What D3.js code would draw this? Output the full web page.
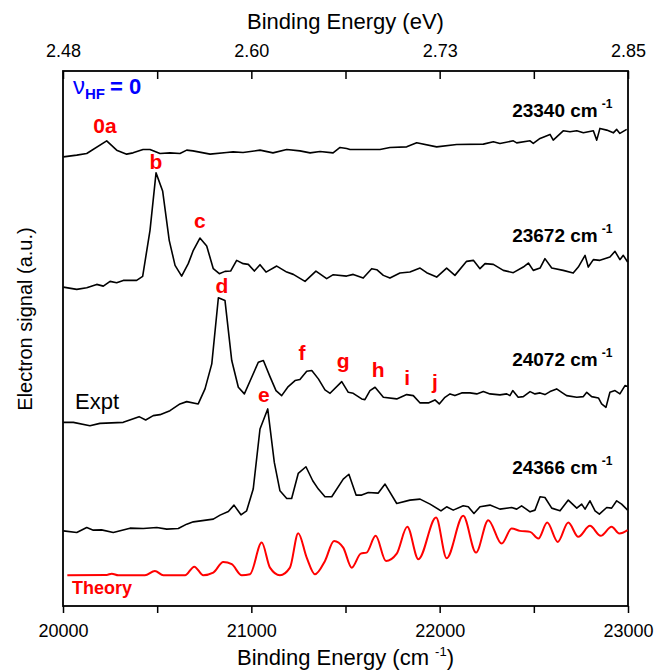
<!DOCTYPE html>
<html>
<head>
<meta charset="utf-8">
<script src="https://cdn.jsdelivr.net/npm/d3@7"></script>
<style>
  body { margin: 0; background: #fff; }
  svg { display: block; font-family: "Liberation Sans", Arial, sans-serif; }
</style>
</head>
<body>
<svg id="chart" width="656" height="672"></svg>
<script>
// Photoelectron spectra, v_HF = 0, stacked with vertical offsets (a.u.)
// each point: [binding energy cm-1, signal a.u.]

const trace23340 = [
  [20002, 448.3], [20073, 450], [20126, 451.7], [20232, 464.3], [20285, 455], [20338, 451],
  [20372, 452.3], [20425, 455.7], [20462, 455.7], [20515, 451.7], [20568, 452.3], [20621, 451.7],
  [20657, 455], [20690, 454.3], [20781, 451], [20869, 452.7], [20903, 453.3], [20956, 452.7],
  [21046, 455], [21115, 452.3], [21188, 455.7], [21258, 454.3], [21312, 452.3], [21365, 453.7],
  [21434, 452.3], [21471, 457.7], [21506, 456.7], [21524, 455.7], [21683, 455.7], [21736, 457.7],
  [21825, 458.3], [21878, 462.3], [21984, 458.3], [22090, 460.7], [22232, 461], [22285, 463.3],
  [22320, 461.7], [22391, 464.3], [22409, 462.3], [22480, 464.3], [22497, 461.7], [22533, 466.7],
  [22586, 470.7], [22603, 465], [22656, 474.3], [22692, 473.3], [22728, 474.3], [22763, 472.3],
  [22816, 474.3], [22834, 465], [22851, 476.7], [22887, 475], [22922, 472.3], [22940, 475.7],
  [22957, 471.7], [22993, 475.7]
];

const trace23672 = [
  [20002, 318.3], [20073, 316], [20126, 317.7], [20179, 321], [20214, 319.3], [20250, 324],
  [20285, 322.7], [20320, 325], [20391, 325], [20423, 329], [20462, 375], [20494, 432.3],
  [20529, 414.3], [20564, 365], [20595, 340], [20630, 329.3], [20665, 341.7], [20692, 355],
  [20727, 367.3], [20763, 359.3], [20798, 336.7], [20830, 331.7], [20860, 334], [20890, 334.3],
  [20922, 345], [20957, 341.7], [20984, 341], [21016, 334.3], [21046, 340.7], [21078, 333.3],
  [21135, 339.3], [21188, 333.3], [21223, 331], [21285, 324], [21343, 334.3], [21400, 326.7],
  [21435, 330.7], [21506, 329.3], [21541, 331], [21594, 327.3], [21639, 336.7], [21666, 335.7],
  [21701, 330], [21736, 327.3], [21789, 332.3], [21842, 333.3], [21896, 337.3], [21931, 332.7],
  [21984, 328.3], [22037, 337.3], [22081, 330], [22143, 344], [22179, 345], [22214, 336.7],
  [22241, 341.7], [22285, 341], [22338, 335], [22391, 332.7], [22444, 338.3], [22471, 342.3],
  [22497, 335], [22533, 337.3], [22559, 346.7], [22595, 337.3], [22656, 335], [22709, 332.3],
  [22736, 338.3], [22772, 350], [22789, 338.3], [22816, 345.7], [22851, 345], [22904, 348.3],
  [22931, 354], [22957, 345.7], [22975, 350], [22998, 343.3]
];

const trace24072 = [
  [20002, 183.3], [20055, 183.3], [20143, 180], [20196, 182.3], [20320, 183.3], [20404, 189],
  [20439, 185.7], [20479, 190], [20515, 191], [20568, 195], [20621, 201.7], [20657, 204],
  [20718, 201.7], [20754, 216.7], [20790, 241.7], [20825, 307.7], [20860, 305], [20896, 245],
  [20931, 218.3], [20963, 211.7], [21002, 228.3], [21037, 243.3], [21064, 245], [21099, 229],
  [21131, 215], [21161, 210], [21196, 219], [21232, 225], [21258, 226], [21294, 234.3],
  [21321, 235], [21356, 226.7], [21391, 215.7], [21418, 212.3], [21480, 224], [21515, 213.3],
  [21541, 212.3], [21586, 206.7], [21603, 206], [21630, 215], [21657, 218.3], [21701, 208.3],
  [21772, 206.7], [21825, 211], [21860, 210], [21896, 202.7], [21940, 202.7], [21975, 205.7],
  [21998, 201.7], [22028, 208.3], [22055, 211.7], [22081, 210], [22117, 212.7], [22161, 212.7],
  [22197, 211.7], [22232, 214], [22267, 211.7], [22320, 210.7], [22356, 211.7], [22373, 210],
  [22388, 215], [22417, 208.3], [22444, 209], [22480, 214], [22506, 211.7], [22533, 212.7],
  [22559, 211], [22586, 214], [22621, 216.7], [22648, 213.3], [22674, 210], [22728, 208.3],
  [22763, 209], [22781, 213.3], [22807, 209], [22843, 207.7], [22860, 201.7], [22883, 198.3],
  [22904, 213.3], [22931, 215], [22957, 211.7], [22984, 220], [22998, 219]
];

const trace24366 = [
  [20002, 75], [20073, 73.3], [20126, 78.3], [20161, 75.7], [20205, 76], [20267, 73.3],
  [20356, 77.7], [20426, 77.3], [20498, 78.3], [20551, 76.7], [20612, 77.3], [20657, 81.7],
  [20692, 84], [20798, 86.7], [20834, 90.7], [20878, 94.3], [20908, 100.7], [20945, 91],
  [20975, 95], [21010, 116.7], [21046, 176.7], [21087, 196.7], [21122, 143.3], [21152, 115],
  [21188, 107.3], [21214, 107.3], [21249, 132.3], [21290, 139], [21326, 125], [21356, 116.7],
  [21391, 109], [21427, 109], [21488, 126.7], [21518, 131.5], [21556, 110.7], [21586, 110.7],
  [21621, 113.3], [21674, 112.7], [21710, 121.7], [21772, 102.3], [21842, 105.7], [21896, 106.7],
  [21949, 101.7], [22007, 95], [22037, 99], [22072, 95.7], [22125, 100], [22152, 99],
  [22182, 92.3], [22214, 99], [22267, 100.7], [22320, 96.7], [22382, 98.3], [22409, 96.7],
  [22435, 100], [22480, 94], [22506, 95.7], [22533, 109], [22559, 108.3], [22595, 97.7],
  [22639, 95], [22683, 105.7], [22728, 97.7], [22754, 101.7], [22772, 96.7], [22798, 105],
  [22825, 95], [22848, 91.7], [22887, 98.3], [22913, 97.7], [22940, 105], [22966, 101.7],
  [22998, 95.7]
];

const theory = [
  [20023, 30.7], [20232, 31], [20259, 32.3], [20294, 30.7], [20435, 30.7], [20488, 35],
  [20533, 30.7], [20648, 30.7], [20697, 39.3], [20745, 30.7], [20798, 33.3], [20851, 44],
  [20896, 41.7], [20949, 30.7], [20993, 31.7], [21055, 63.3], [21099, 38.3], [21152, 30.7],
  [21205, 38.3], [21249, 72.7], [21294, 48.3], [21338, 31.7], [21391, 45], [21439, 65],
  [21488, 58.3], [21533, 38.3], [21581, 52.3], [21612, 53.3], [21660, 70], [21715, 45],
  [21772, 52.3], [21828, 79], [21887, 46.7], [21981, 88.3], [22037, 47.7], [22125, 90],
  [22193, 53.3], [22258, 85.7], [22329, 62.3], [22382, 77.3], [22426, 75], [22480, 74],
  [22524, 67.3], [22571, 83.3], [22627, 64], [22683, 83.3], [22736, 69], [22798, 80],
  [22855, 70], [22913, 79], [22954, 72.3], [22998, 75.7]
];

// peak labels (red)
const peakLabels = ['0a', 'b', 'c', 'd', 'e', 'f', 'g', 'h', 'i', 'j'];
const peakX = [20223, 20494, 20727, 20844, 21067, 21269, 21487, 21673, 21827, 21975];
const peakY = [471.7, 435.7, 377.3, 312, 203.3, 246, 238, 229, 221, 216.7];

// photon energy labels
const photonLabels = ['23340', '23672', '24072', '24366'];
const photonY = [488.3, 363.3, 240, 131.7];
const photonX = 22385;

const xTicks = [20000, 20500, 21000, 21500, 22000, 22500, 23000];

// layout
const svg = d3.select('#chart');
const width = 656, height = 672;
const margin = { top: 71, right: 28, bottom: 66, left: 63 };
const innerWidth = width - margin.left - margin.right;
const innerHeight = height - margin.top - margin.bottom;

const g = svg.append('g').attr('transform', `translate(${margin.left},${margin.top})`);

const xScale = d3.scaleLinear().domain([20000, 23000]).range([margin.left, margin.left + innerWidth]);
const yScale = d3.scaleLinear().domain([0, 534]).range([margin.top + innerHeight, margin.top]);

// bottom axis, cm-1
const xAxisB = svg.append('g')
  .attr('transform', `translate(0,${margin.top + innerHeight})`)
  .call(d3.axisBottom(xScale)
    .tickValues(xTicks)
    .tickSizeInner(7).tickSizeOuter(0).tickPadding(11)
    .tickFormat(d => d % 1000 === 0 ? d : ''));
xAxisB.select('.domain').remove();
xAxisB.selectAll('line').attr('stroke-width', 1.5);
xAxisB.selectAll('text').filter(d => d % 1000 !== 0).remove();
xAxisB.selectAll('text').style('font-size', '18px').attr('fill', '#000');

// top axis, eV (1 cm-1 = 1.23984e-4 eV)
const xAxisT = svg.append('g')
  .attr('transform', `translate(0,${margin.top})`)
  .call(d3.axisTop(xScale)
    .tickValues(xTicks)
    .tickSizeInner(-8).tickSizeOuter(0).tickPadding(14)
    .tickFormat(d => d % 1000 === 0 ? (d * 1.23984e-4).toFixed(2) : ''));
xAxisT.select('.domain').remove();
xAxisT.selectAll('line').attr('stroke-width', 1.5);
xAxisT.selectAll('text').filter(d => d % 1000 !== 0).remove();
xAxisT.selectAll('text').style('font-size', '18px').attr('fill', '#000').attr('dy', '0');

// frame
svg.append('rect')
  .attr('x', margin.left)
  .attr('y', margin.top)
  .attr('width', innerWidth)
  .attr('height', innerHeight)
  .style('fill', 'none')
  .style('stroke', 'black')
  .style('stroke-width', 1.8);

// traces
const line = d3.line().x(d => xScale(d[0])).y(d => yScale(d[1]));
[trace23340, trace23672, trace24072, trace24366].forEach(tr => {
  svg.append('path')
    .datum(tr)
    .attr('d', line)
    .style('fill', 'none')
    .style('stroke', 'black')
    .style('stroke-width', 1.6)
    .style('stroke-linejoin', 'round');
});

const smooth = d3.line().curve(d3.curveMonotoneX).x(d => xScale(d[0])).y(d => yScale(d[1]));
svg.append('path')
  .datum(theory)
  .attr('d', smooth)
  .style('fill', 'none')
  .style('stroke', '#ff0000')
  .style('stroke-width', 2);

// peak labels
svg.selectAll('.peak-label')
  .data(peakLabels)
  .join('text')
  .classed('peak-label', true)
  .attr('x', (d, i) => xScale(peakX[i]))
  .attr('y', (d, i) => yScale(peakY[i]))
  .attr('text-anchor', 'middle')
  .style('font-size', '21px')
  .style('font-weight', 'bold')
  .style('fill', '#ff0000')
  .text(d => d);

// photon energy labels
const photon = svg.selectAll('.photon-label')
  .data(photonLabels)
  .join('text')
  .classed('photon-label', true)
  .attr('x', xScale(photonX))
  .attr('y', (d, i) => yScale(photonY[i]))
  .style('font-size', '19px')
  .style('font-weight', 'bold');
photon.append('tspan').text(d => d + ' cm');
photon.append('tspan').attr('dx', 4).attr('dy', -9).style('font-size', '12px').text('-1');

// Expt / Theory
svg.append('text')
  .attr('x', 75).attr('y', 409)
  .style('font-size', '22px')
  .text('Expt');
svg.append('text')
  .attr('x', 72).attr('y', 594)
  .style('font-size', '18px')
  .style('font-weight', 'bold')
  .style('fill', '#ff0000')
  .text('Theory');

// v_HF = 0
const nu = svg.append('text')
  .attr('x', 73).attr('y', 94)
  .style('fill', '#0000ff')
  .style('font-weight', 'bold');
nu.append('tspan').style('font-size', '24px').style('font-weight', 'normal').text('\u03bd');
nu.append('tspan').attr('dy', 5).style('font-size', '15px').text('HF');
nu.append('tspan').attr('dy', -5).attr('dx', 5).style('font-size', '22px').text('= 0');

// axis titles
svg.append('text')
  .attr('x', margin.left + innerWidth / 2).attr('y', 29)
  .attr('text-anchor', 'middle')
  .style('font-size', '22px')
  .text('Binding Energy (eV)');

const bt = svg.append('text')
  .attr('x', margin.left + innerWidth / 2).attr('y', 665)
  .attr('text-anchor', 'middle')
  .style('font-size', '22px');
bt.append('tspan').text('Binding Energy (cm ');
bt.append('tspan').attr('dy', -9).style('font-size', '13px').text('-1');
bt.append('tspan').attr('dy', 9).text(')');

svg.append('text')
  .attr('transform', 'translate(32,319) rotate(-90)')
  .attr('text-anchor', 'middle')
  .style('font-size', '20px')
  .text('Electron signal (a.u.)');
</script>
</body>
</html>
